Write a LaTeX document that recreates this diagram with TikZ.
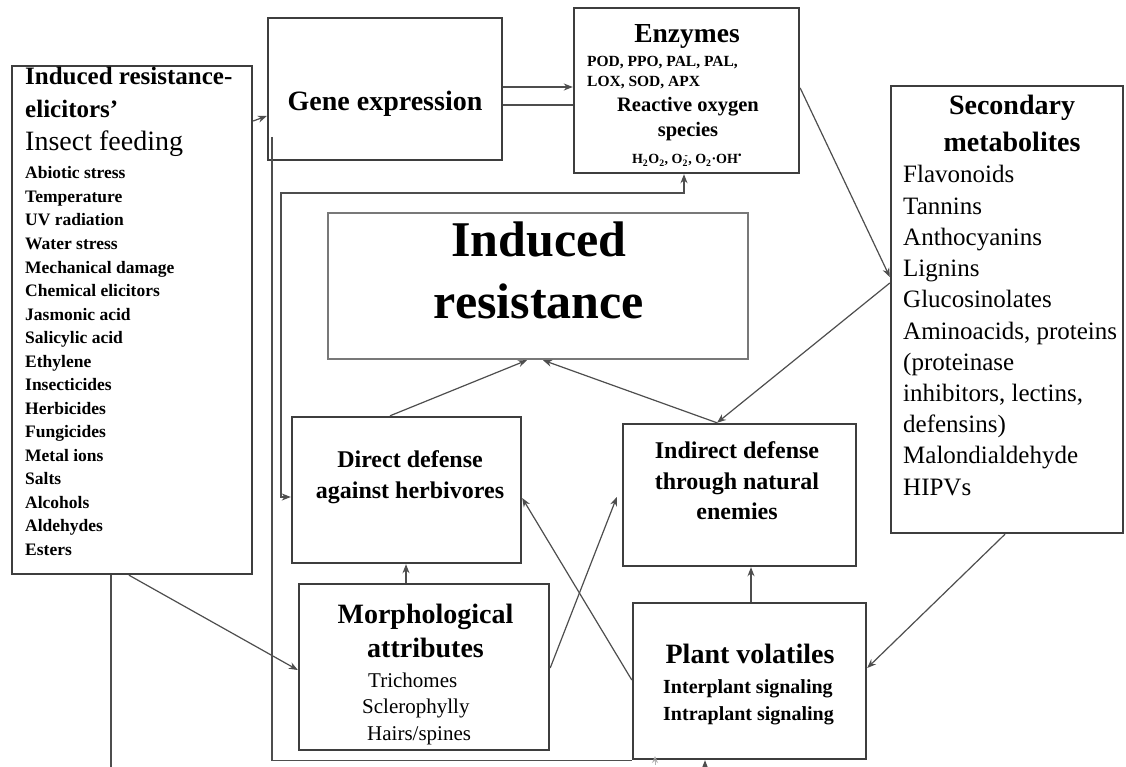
\documentclass[tikz,border=0pt]{standalone}
\usepackage{fontspec}
\setmainfont{Liberation Serif}
\usetikzlibrary{arrows.meta,calc}
\definecolor{boxc}{HTML}{3E3E3E}
\definecolor{irc}{HTML}{787878}
\definecolor{connc}{HTML}{4E4E4E}
\newcommand\myfs[2]{\fontsize{#1}{#2}\selectfont}
\tikzset{
  box/.style={draw=boxc, line width=2.4pt, rectangle, inner sep=0pt, fill=none},
  conn/.style={draw=connc, line width=1.2pt},
  arr/.style={conn, -{Stealth[length=9pt,width=7pt]}},
  txt/.style={inner sep=0pt, text=black},
  tb/.style={txt, font=\myfs{#1}{#1}\bfseries},
  tr/.style={txt, font=\myfs{#1}{#1}},
}
\begin{document}
\begin{tikzpicture}[x=1pt,y=-1pt]
\useasboundingbox (0,0) rectangle (1126,767);
\fill[white] (0,0) rectangle (1126,767);
\clip (0,0) rectangle (1126,767);

% boxes
\node[box, minimum width=240pt, minimum height=508pt] (elic) at (132,320) {};
\node[box, minimum width=234pt, minimum height=142pt] (gene) at (385,89) {};
\node[box, minimum width=225pt, minimum height=165pt] (enz) at (686.5,90.5) {};
\node[box, draw=irc, minimum width=420pt, minimum height=146pt] (ir) at (538,286) {};
\node[box, minimum width=229pt, minimum height=146pt] (dd) at (406.5,490) {};
\node[box, minimum width=233pt, minimum height=142pt] (id) at (739.5,495) {};
\node[box, minimum width=250pt, minimum height=166pt] (morph) at (424,667) {};
\node[box, minimum width=233pt, minimum height=156pt] (pv) at (749.5,681) {};
\node[box, minimum width=232pt, minimum height=447pt] (sec) at (1007,309.5) {};

% elicitors text
\node[tb=25, anchor=base west] (e1) at (25,85) {Induced resistance-};
\node[tb=25, anchor=base west] (e2) at (25,118) {elicitors’};
\node[tr=28, anchor=base west] (e3) at (25,151) {Insect feeding};
\foreach \t [count=\i from 0] in {Abiotic stress, Temperature, UV radiation, Water stress, Mechanical damage, Chemical elicitors, Jasmonic acid, Salicylic acid, Ethylene, Insecticides, Herbicides, Fungicides, Metal ions, Salts, Alcohols, Aldehydes, Esters}
  \node[tb=17.5, anchor=base west] (el\i) at (25,{179+23.5*\i}) {\t};

% gene expression
\node[tb=28, anchor=base] (gt) at (385,111) {Gene expression};

% enzymes
\node[tb=27.5, anchor=base] (en1) at (687,43) {Enzymes};
\node[tb=15.5, anchor=base west] (en2) at (587,67) {POD, PPO, PAL, PAL,};
\node[tb=15.5, anchor=base west] (en3) at (587,87) {LOX, SOD, APX};
\node[tb=20.5, anchor=base] (en4) at (688,112) {Reactive oxygen};
\node[tb=20.5, anchor=base] (en5) at (688,137) {species};
\node[tb=14, anchor=base] (en6) at (687,164) {H\textsubscript{2}O\textsubscript{2}, O\textsubscript{2}\textsuperscript{\kern-0.35em-}, O\textsubscript{2}·OH\textsuperscript{•}};

% induced resistance
\node[tb=50, anchor=base] (ir1) at (539,257) {Induced};
\node[tb=50, anchor=base] (ir2) at (539,318) {resistance};

% direct defense
\node[tb=24, anchor=base] (dd1) at (410,467) {Direct defense};
\node[tb=24, anchor=base] (dd2) at (410,498) {against herbivores};

% indirect defense
\node[tb=24, anchor=base] (id1) at (737,458) {Indirect defense};
\node[tb=24, anchor=base] (id2) at (737,489) {through natural};
\node[tb=24, anchor=base] (id3) at (737,519) {enemies};

% morphological
\node[tb=28, anchor=base] (mo1) at (425.5,623) {Morphological};
\node[tb=28, anchor=base] (mo2) at (425.5,657) {attributes};
\node[tr=21, anchor=base west] (mo3) at (368,687) {Trichomes};
\node[tr=21, anchor=base west] (mo4) at (362,713) {Sclerophylly};
\node[tr=21, anchor=base west] (mo5) at (367,740) {Hairs/spines};

% plant volatiles
\node[tb=28, anchor=base] (pv1) at (750,663) {Plant volatiles};
\node[tb=20, anchor=base west] (pv2) at (663,693) {Interplant signaling};
\node[tb=20, anchor=base west] (pv3) at (663,720) {Intraplant signaling};

% secondary metabolites
\node[tb=28, anchor=base] (sm1) at (1012,115) {Secondary};
\node[tb=28, anchor=base] (sm2) at (1012,152) {metabolites};
\foreach \t [count=\i from 0] in {{Flavonoids}, {Tannins}, {Anthocyanins}, {Lignins}, {Glucosinolates}, {Aminoacids, proteins}, {(proteinase}, {inhibitors, lectins,}, {defensins)}, {Malondialdehyde}, {HIPVs}}
  \node[tr=25, anchor=base west] (sl\i) at (903,{183+31.2*\i}) {\t};

% connectors
\draw[arr] (elic.east |- 0,121) -- (gene.west |- 0,116);
\draw[arr] (gene.east |- 0,87) -- (enz.west |- 0,87);
\draw[conn] (gene.east |- 0,105) -- (enz.west |- 0,105);
\draw[arr] (enz.east |- 0,88) -- (sec.west |- 0,277);
\draw[arr] (sec.west |- 0,283) -- (717,0 |- id.north);
\draw[arr] (717,0 |- id.north) -- (543,0 |- ir.south);
\draw[arr] (390,0 |- dd.north) -- (527,0 |- ir.south);
\draw[arr] (406,0 |- morph.north) -- (406,0 |- dd.south);
\draw[arr] (751,0 |- pv.north) -- (751,0 |- id.south);
\draw[arr] (129,0 |- elic.south) -- (morph.west |- 0,670);
\draw[arr] (morph.east |- 0,668) -- ([xshift=-5pt]id.west |- 0,497);
\draw[arr] (pv.west |- 0,680) -- (dd.east |- 0,498);
\draw[arr] (1005,0 |- sec.south) -- (pv.east |- 0,668);
\draw[conn, {Stealth[length=9pt,width=7pt]}-{Stealth[length=9pt,width=7pt]}]
  (684,0 |- enz.south) -- (684,193) -- (281,193) -- (281,497) -- (dd.west |- 0,497);
\coordinate (g1) at (272,137);
\draw[conn] (g1) |- (pv.south west);
\draw[draw=gray!60, line width=0.8pt, -{Stealth[open,length=7pt,width=6pt]}] (655,765) -- (655,756);
\draw[arr] (111,0 |- elic.south) -- (111,785) -| (705,0 |- pv.south);
\end{tikzpicture}
\end{document}
